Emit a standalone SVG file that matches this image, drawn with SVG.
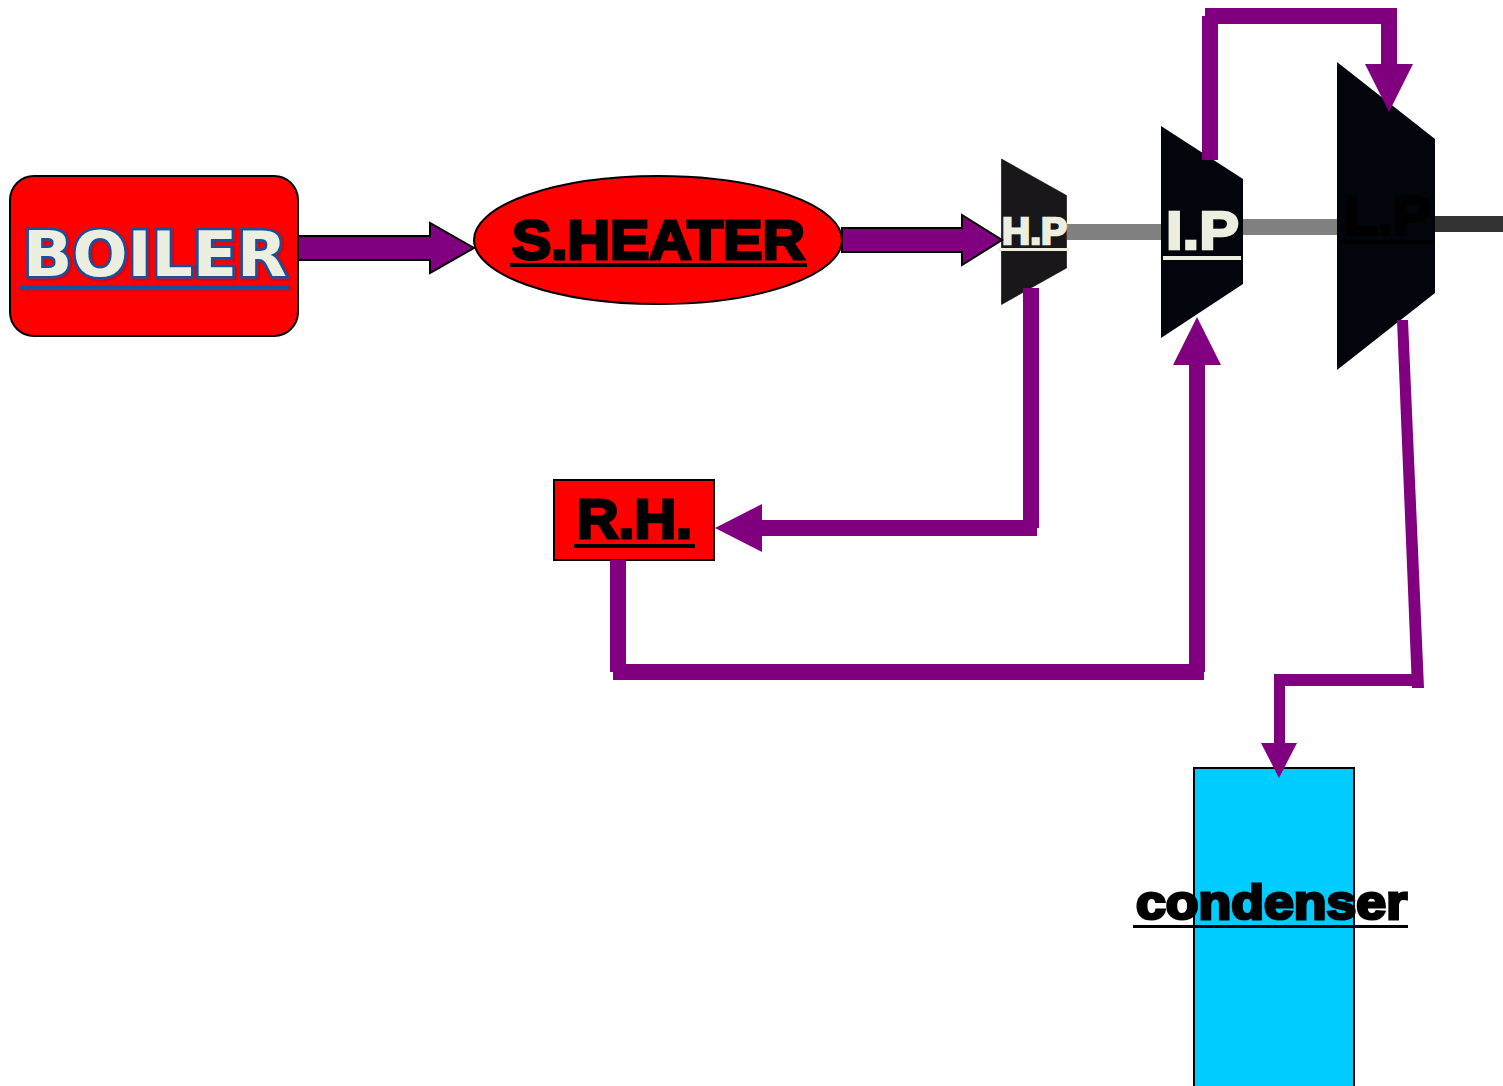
<svg xmlns="http://www.w3.org/2000/svg" width="1503" height="1086" viewBox="0 0 1503 1086">
<defs>
<filter id="glow" x="-10%" y="-20%" width="120%" height="140%"><feDropShadow dx="1" dy="1" stdDeviation="1" flood-color="#7a1030" flood-opacity="0.7"/></filter>
</defs>
<style>
.box{stroke:#000;stroke-width:2}
.flow{fill:#800080}
.edged{fill:#800080;stroke:#000;stroke-width:2}
.black{font-family:"Liberation Sans",Arial,sans-serif;font-weight:700;fill:#000;stroke:#000;stroke-width:3;stroke-linejoin:miter}
.pale{font-family:"Liberation Sans",Arial,sans-serif;font-weight:700;fill:#eceedf;stroke:#eceedf;stroke-width:2.4;stroke-linejoin:miter}
</style>
<rect width="1503" height="1086" fill="#fff"/>
<g id="shafts">
<rect x="1067" y="224" width="96" height="16" fill="#808080"/>
<rect x="1242" y="219" width="96" height="16" fill="#808080"/>
<rect x="1434" y="216" width="69" height="16" fill="#333"/>
</g>
<g id="boiler">
<rect class="box" x="10" y="176" width="288" height="160" rx="24" fill="#f00"/>
<g filter="url(#glow)">
<text x="23" y="276" font-family="'DejaVu Sans',Verdana,sans-serif" font-weight="700" font-size="63" textLength="264" lengthAdjust="spacingAndGlyphs" fill="#eceedf" stroke="#12509c" stroke-width="5" paint-order="stroke">BOILER</text>
<rect x="21" y="286.500" width="267" height="2" fill="#eceedf" stroke="#12509c" stroke-width="2"/>
</g>
</g>
<g id="sheater">
<ellipse class="box" cx="658" cy="240" rx="184" ry="64" fill="#f00"/>
<text class="black" x="512" y="258.500" font-size="55" textLength="293" lengthAdjust="spacingAndGlyphs">S.HEATER</text>
<rect x="510" y="263" width="297" height="4" fill="#000"/>
</g>
<g id="hp">
<polygon points="1001.500,159 1066.500,195.500 1066.500,268 1001.500,304.500" fill="#1a171b" stroke="#000" stroke-width="0.600"/>
<text class="pale" x="1002" y="244" font-size="37" textLength="65" lengthAdjust="spacingAndGlyphs">H.P</text>
<rect x="998" y="248" width="71" height="3" fill="#eceedf"/>
</g>
<g id="ip">
<polygon points="1161,126 1243,179 1243,284 1161,338" fill="#02050c"/>
<text class="pale" x="1166" y="249" font-size="53" textLength="73" lengthAdjust="spacingAndGlyphs">I.P</text>
<rect x="1163" y="256" width="78" height="4" fill="#eceedf"/>
</g>
<g id="lp">
<polygon points="1337,62 1435,139 1435,293 1337,370" fill="#02050c"/>
<text class="black" x="1343" y="233.500" font-size="53" textLength="88" lengthAdjust="spacingAndGlyphs">L.P</text>
<rect x="1340" y="240" width="93" height="4" fill="#000"/>
</g>
<g id="rh">
<rect class="box" x="554" y="480" width="160" height="80" fill="#f00"/>
<text class="black" x="577" y="538" font-size="55" textLength="115" lengthAdjust="spacingAndGlyphs">R.H.</text>
<rect x="574" y="544" width="121" height="4" fill="#000"/>
</g>
<g id="condenser">
<rect class="box" x="1194" y="768" width="160" height="330" fill="#0cf"/>
<text class="black" x="1136" y="919" font-size="49" textLength="271" lengthAdjust="spacingAndGlyphs">condenser</text>
<rect x="1133" y="925" width="275" height="3" fill="#000"/>
</g>
<g id="connectors">
<polygon class="edged" points="298,236 430,236 430,223 474,248 430,273 430,260 298,260"/>
<polygon class="edged" points="842,228 962,228 962,215 1002,240 962,265 962,252 842,252"/>
<rect class="flow" x="1202" y="16" width="16" height="144"/>
<rect class="flow" x="1205" y="8" width="192" height="16"/>
<rect class="flow" x="1381" y="8" width="16" height="58"/>
<polygon class="flow" points="1365,64 1413,64 1389,112"/>
<rect class="flow" x="1023" y="288" width="16" height="240"/>
<rect class="flow" x="760" y="520" width="277" height="16"/>
<polygon class="flow" points="762,504 762,552 715,528"/>
<rect class="flow" x="610" y="560" width="16" height="112"/>
<rect class="flow" x="613" y="664" width="591" height="16"/>
<rect class="flow" x="1189" y="363" width="16" height="309"/>
<polygon class="flow" points="1173,365 1221,365 1197,317"/>
<polygon class="flow" points="1397,320 1408,320 1424,688 1412,688"/>
<rect class="flow" x="1274" y="674" width="149" height="12"/>
<rect class="flow" x="1274" y="674" width="11" height="72"/>
<polygon class="flow" points="1261,743 1297,743 1279,778"/>
</g>
</svg>
